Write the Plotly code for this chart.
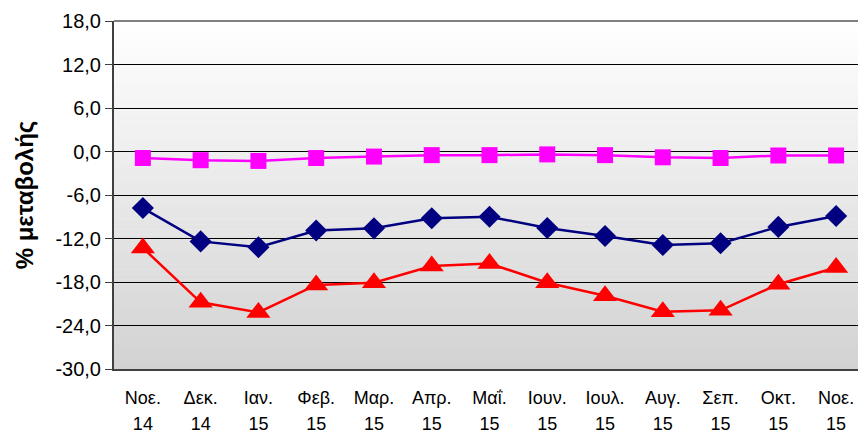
import plotly.graph_objects as go

months = ["Νοε.", "Δεκ.", "Ιαν.", "Φεβ.", "Μαρ.", "Απρ.", "Μαΐ.", "Ιουν.", "Ιουλ.", "Αυγ.", "Σεπ.", "Οκτ.", "Νοε."]
years = ["14", "14", "15", "15", "15", "15", "15", "15", "15", "15", "15", "15", "15"]

series_pink = [-0.9, -1.2, -1.3, -0.9, -0.7, -0.5, -0.5, -0.4, -0.5, -0.8, -0.9, -0.55, -0.55]
series_blue = [-7.8, -12.4, -13.2, -10.9, -10.6, -9.2, -9.0, -10.55, -11.65, -12.9, -12.65, -10.4, -8.9]
series_red = [-13.3, -20.8, -22.2, -18.4, -18.1, -15.8, -15.45, -18.1, -19.9, -22.1, -21.9, -18.3, -16.0]

y_tickvals = [-30, -24, -18, -12, -6, 0, 6, 12, 18]
y_ticktext = ["-30,0", "-24,0", "-18,0", "-12,0", "-6,0", "0,0", "6,0", "12,0", "18,0"]

cats = [f"<span style='font-size:18px'>{m}</span><br><span style='font-size:18px'>{y}</span>" for m, y in zip(months, years)]

fig = go.Figure()
fig.add_trace(go.Scatter(x=cats, y=series_pink, mode="lines+markers",
                         line=dict(color="#FF00FF", width=2.5),
                         marker=dict(symbol="square", size=16, color="#FF00FF")))
fig.add_trace(go.Scatter(x=cats, y=series_blue, mode="lines+markers",
                         line=dict(color="#000080", width=2.5),
                         marker=dict(symbol="diamond", size=17, color="#000080")))
fig.add_trace(go.Scatter(x=cats, y=series_red, mode="lines+markers",
                         line=dict(color="#FF0000", width=2.5),
                         marker=dict(symbol="triangle-up", size=21, color="#FF0000")))

# gradient background bands
shapes = []
n = 70
top = (255, 255, 255)
bot = (210, 210, 210)
for i in range(n):
    t = (i + 0.5) / n
    c = tuple(round(top[k] + (bot[k] - top[k]) * t) for k in range(3))
    shapes.append(dict(type="rect", xref="paper", yref="paper",
                       x0=0, x1=1, y0=1 - (i + 1) / n, y1=1 - i / n + 0.001,
                       fillcolor="rgb(%d,%d,%d)" % c, line=dict(width=0), layer="below"))
# top and right border
shapes.append(dict(type="line", xref="paper", yref="paper", x0=0, x1=1, y0=1, y1=1,
                   line=dict(color="#808080", width=2)))
shapes.append(dict(type="line", xref="paper", yref="paper", x0=1, x1=1, y0=0, y1=1,
                   line=dict(color="#A0A0A0", width=1.5)))

fig.update_layout(
    width=858, height=427,
    margin=dict(l=106, r=1, t=13, b=64),
    paper_bgcolor="white", plot_bgcolor="rgba(0,0,0,0)",
    showlegend=False,
    shapes=shapes,
    font=dict(family="Arial, Liberation Sans, sans-serif", color="black"),
)
fig.update_yaxes(range=[-30, 18], tickvals=y_tickvals, ticktext=y_ticktext,
                 showgrid=True, gridcolor="black", gridwidth=1,
                 showline=True, linecolor="#404040", linewidth=2,
                 ticks="outside", ticklen=7, tickcolor="#404040",
                 tickfont=dict(size=20), zeroline=False,
                 title=dict(text="<b>% μεταβολής</b>", font=dict(size=24), standoff=15))
fig.update_xaxes(range=[-0.5, len(months) - 0.5],
                 showgrid=False, showline=True, linecolor="#404040", linewidth=2,
                 ticks="", tickfont=dict(size=20), tickangle=0, ticklabelstandoff=9)

fig.write_html("out.html")
